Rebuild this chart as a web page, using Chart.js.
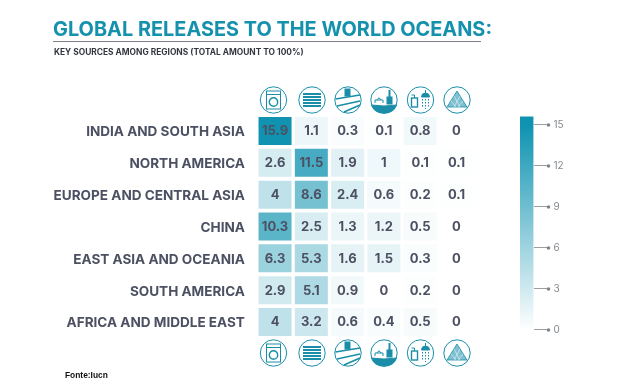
<!DOCTYPE html>
<html>
<head>
<meta charset="utf-8">
<script src="https://cdn.jsdelivr.net/npm/chart.js@4"></script>
<style>
html, body { margin: 0; padding: 0; background: #fff; }
#page { position: relative; width: 630px; height: 390px; overflow: hidden; font-family: Inter, sans-serif; }
#page > * { position: absolute; }
#heat { left: 0; top: 0; }
#bar { left: 500px; top: 100px; }
#title { left: 53px; top: 16px; font-size: 19.9px; font-weight: 700; color: #1491ad; white-space: nowrap; line-height: 26px; }
#rule { left: 53px; top: 41px; width: 428px; height: 1px; background: #7d8288; }
#sub { left: 54px; top: 47px; font-size: 8.4px; font-weight: 700; color: #33363f; white-space: nowrap; line-height: 11px; }
#source { left: 65px; top: 370px; font: bold 8.4px "Liberation Sans", sans-serif; color: #111; white-space: nowrap; }
#icons { left: 0; top: 0; }
</style>
</head>
<body>
<div id="page">
  <canvas id="heat" width="630" height="390"></canvas>
  <canvas id="bar" width="100" height="250"></canvas>
  <div id="title">GLOBAL RELEASES TO THE WORLD OCEANS:</div>
  <div id="rule"></div>
  <div id="sub">KEY SOURCES AMONG REGIONS (TOTAL AMOUNT TO 100%)</div>
  <div id="source">Fonte:Iucn</div>
  <svg id="icons" width="630" height="390" fill="none" stroke="#1a8ea8" stroke-width="1">
    <defs>
      <g id="washer">
        <circle r="13.2"/><rect x="-7" y="-9" width="14" height="18"/>
        <path d="M-7-5.5H7"/><circle cy="2" r="4.2" stroke-width="1.4"/>
      </g>
      <g id="layers">
        <circle r="13.2"/>
        <path d="M-9-6H9M-9-3H9M-9 0H9M-9 3H9M-9 6H9" stroke-width="2.2"/>
      </g>
      <g id="road">
        <circle r="13.2"/><rect x="-3" y="-11" width="5" height="7" fill="#1a8ea8"/>
        <path d="M-12.5-1 12-5M-11 6 12 1M-4 12 12 5" stroke-width="1.6"/>
      </g>
      <g id="boat">
        <circle r="13.2"/>
        <path d="M-12.5 5Q0 7 12.5 5Q10 13 0 13.2Q-10 13-12.5 5Z" fill="#1a8ea8"/>
        <path d="M-9 3V0H-1V3M-7 0Q-5-4-3 0"/>
        <rect x="3" y="-3" width="5" height="7" fill="#1a8ea8"/><path d="M5.5-3V-10" stroke-width="2"/>
      </g>
      <g id="shower">
        <circle r="13.2"/>
        <rect x="-9" y="-2" width="6" height="9" stroke-width="1.4"/><path d="M-6-2V-5H-9"/>
        <path d="M1-3A4 4 0 0 1 9-3Z" fill="#1a8ea8"/><path d="M5-7V-10"/>
        <path d="M2-1V8M5-1V9M8-1V8" stroke-dasharray="1.5 1.5"/>
      </g>
      <g id="pyramid">
        <circle r="13.2"/>
        <path d="M0-9 10 7H-10Z" fill="#7fc0d1" stroke="#1a8ea8" stroke-width=".8"/>
        <path d="M-3-4 3 7M3-4-3 7M-6 1-1 7M6 1 1 7" stroke="#fff" stroke-width=".5"/>
      </g>
    </defs>
    <use href="#washer" x="273.5" y="100"/><use href="#layers" x="312" y="100"/><use href="#road" x="348" y="100"/>
    <use href="#boat" x="384" y="100"/><use href="#shower" x="420.5" y="100"/><use href="#pyramid" x="457" y="100"/>
    <use href="#washer" x="273.5" y="353"/><use href="#layers" x="312" y="353"/><use href="#road" x="348" y="353"/>
    <use href="#boat" x="384" y="353"/><use href="#shower" x="420.5" y="353"/><use href="#pyramid" x="457" y="353"/>
  </svg>
</div>
<script>
var regions = ['INDIA AND SOUTH ASIA', 'NORTH AMERICA', 'EUROPE AND CENTRAL ASIA', 'CHINA', 'EAST ASIA AND OCEANIA', 'SOUTH AMERICA', 'AFRICA AND MIDDLE EAST'];
var sources = ['Laundry', 'Textiles', 'Road', 'Marine', 'Personal care', 'Pellets'];
var india = [15.9, 1.1, 0.3, 0.1, 0.8, 0];
var northAmerica = [2.6, 11.5, 1.9, 1, 0.1, 0.1];
var europe = [4, 8.6, 2.4, 0.6, 0.2, 0.1];
var china = [10.3, 2.5, 1.3, 1.2, 0.5, 0];
var eastAsia = [6.3, 5.3, 1.6, 1.5, 0.3, 0];
var southAmerica = [2.9, 5.1, 0.9, 0, 0.2, 0];
var africa = [4, 3.2, 0.6, 0.4, 0.5, 0];
var rows = [india, northAmerica, europe, china, eastAsia, southAmerica, africa];
var colorTicks = [0, 3, 6, 9, 12, 15];

var TEXT = '#4c5062';

function cellColor(v) {
    var t = Math.min(v / 15, 1);
    return 'rgb(' + Math.round(255 - t * 240) + ',' + Math.round(255 - t * 108) + ',' + Math.round(255 - t * 78) + ')';
}

// cell text, bars have no label option of their own
var cellLabels = {
    id: 'cellLabels',
    afterDatasetsDraw: function(chart) {
        var ctx = chart.ctx;
        ctx.save();
        ctx.font = '700 13px Inter';
        ctx.fillStyle = TEXT;
        ctx.textAlign = 'center';
        ctx.textBaseline = 'middle';
        rows.forEach(function(row, r) {
            row.forEach(function(v, c) {
                ctx.fillText(String(v), chart.scales.x.getPixelForValue(c), chart.scales.y.getPixelForValue(r) + 0.5);
            });
        });
        ctx.restore();
    }
};

new Chart(document.getElementById('heat'), {
    type: 'bar',
    data: {
        labels: sources,
        datasets: rows.map(function(row, r) {
            return {
                label: regions[r],
                data: row.map(function() { return [r - 0.44, r + 0.44]; }),
                backgroundColor: row.map(cellColor),
                barPercentage: 0.91,
                categoryPercentage: 1,
                grouped: false
            };
        })
    },
    options: {
        responsive: false,
        animation: false,
        layout: { padding: { left: 0, right: 155.4, top: 115.1, bottom: 52.1 } },
        plugins: { legend: { display: false }, tooltip: { enabled: false } },
        scales: {
            x: { display: false },
            y: {
                type: 'linear',
                reverse: true,
                min: -0.5,
                max: 6.5,
                grid: { display: false },
                border: { display: false },
                // labels sit a touch below the row centre in the original
                afterBuildTicks: function(axis) {
                    axis.ticks = regions.map(function(_, i) { return { value: i + 0.04 }; });
                },
                afterFit: function(axis) { axis.width = 256.9; },
                ticks: {
                    autoSkip: false,
                    padding: 4,
                    color: TEXT,
                    font: { family: 'Inter', size: 13.55, weight: '700' },
                    callback: function(v) { return regions[Math.round(v)]; }
                }
            }
        }
    },
    plugins: [cellLabels]
});

// dots at the end of the colour bar tick lines
var tickDots = {
    id: 'tickDots',
    afterDraw: function(chart) {
        var ctx = chart.ctx;
        var y = chart.scales.y;
        ctx.save();
        ctx.fillStyle = '#7f8488';
        colorTicks.forEach(function(v) {
            ctx.beginPath();
            ctx.arc(y.left + 15, y.getPixelForValue(v), 1.8, 0, Math.PI * 2);
            ctx.fill();
        });
        ctx.restore();
    }
};

new Chart(document.getElementById('bar'), {
    type: 'bar',
    data: {
        labels: ['scale'],
        datasets: [{
            data: [[-0.2, 15.6]],
            barPercentage: 1,
            categoryPercentage: 1,
            backgroundColor: function(c) {
                var area = c.chart.chartArea;
                if (!area) return '#1491ad';
                var y = c.chart.scales.y;
                var g = c.chart.ctx.createLinearGradient(0, y.getPixelForValue(0), 0, y.getPixelForValue(15));
                g.addColorStop(0, '#ffffff');
                g.addColorStop(1, cellColor(15));
                return g;
            }
        }]
    },
    options: {
        responsive: false,
        animation: false,
        layout: { padding: { left: 20, right: 0, top: 15, bottom: 15 } },
        plugins: { legend: { display: false }, tooltip: { enabled: false } },
        scales: {
            x: { display: false },
            y: {
                position: 'right',
                min: -0.37,
                max: 15.73,
                border: { display: false },
                grid: { drawOnChartArea: false, tickLength: 15, tickColor: '#9a9ea2', tickWidth: 1 },
                afterBuildTicks: function(axis) {
                    axis.ticks = colorTicks.map(function(v) { return { value: v }; });
                },
                afterFit: function(axis) { axis.width = 66.5; },
                ticks: {
                    padding: 5,
                    color: '#85898d',
                    font: { family: 'Inter', size: 10 }
                }
            }
        }
    },
    plugins: [tickDots]
});
</script>
</body>
</html>
